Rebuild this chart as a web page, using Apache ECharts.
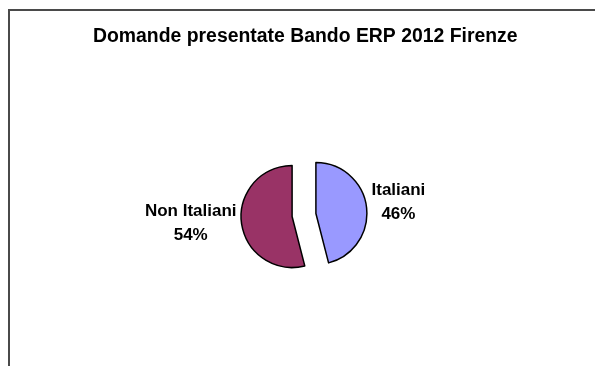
<!DOCTYPE html>
<html>
<head>
<meta charset="utf-8">
<script src="https://cdn.jsdelivr.net/npm/echarts@6/dist/echarts.min.js"></script>
<style>
html,body{margin:0;padding:0;background:#fff;}
#c{width:595px;height:366px;}
</style>
</head>
<body>
<div id="c"></div>
<script>
const titleText = 'Domande presentate Bando ERP 2012 Firenze';
const categories = ['Italiani', 'Non Italiani'];
const values = [46, 54];
const colors = ['#9999FF', '#993366'];

const chart = echarts.init(document.getElementById('c'), null, {renderer: 'canvas'});
const data = categories.map((name, i) => ({
  name: name,
  value: values[i],
  selected: true,
  itemStyle: {color: colors[i]},
  label: i === 0 ? {padding: [0, 0, 10, 0]} : {}
}));

chart.setOption({
  backgroundColor: '#ffffff',
  animation: false,
  title: {
    text: titleText,
    left: 88,
    top: 22,
    textStyle: {fontFamily: 'Liberation Sans, Arial, sans-serif', fontSize: 19.4, fontWeight: 'bold', color: '#000'}
  },
  graphic: [{
    type: 'polyline',
    shape: {points: [[9, 380], [9, 10], [610, 10]]},
    style: {stroke: '#4a4a4a', lineWidth: 2, fill: null},
    silent: true
  }],
  series: [{
    type: 'pie',
    center: [304, 215],
    radius: 51,
    startAngle: 90,
    clockwise: true,
    selectedMode: 'multiple',
    selectedOffset: 12,
    emphasis: {disabled: true},
    itemStyle: {borderColor: '#000', borderWidth: 1.5},
    label: {
      show: true,
      position: 'outside',
      distanceToLabelLine: 3,
      formatter: function (p) { return '{a|' + p.name + '}\n{a|' + Math.round(p.percent) + '%}'; },
      rich: {
        a: {fontFamily: 'Liberation Sans, Arial, sans-serif', fontSize: 17, fontWeight: 'bold', color: '#000', align: 'center', lineHeight: 24}
      }
    },
    labelLine: {show: false, length: 1, length2: 1},
    data: data
  }]
});
</script>
</body>
</html>
